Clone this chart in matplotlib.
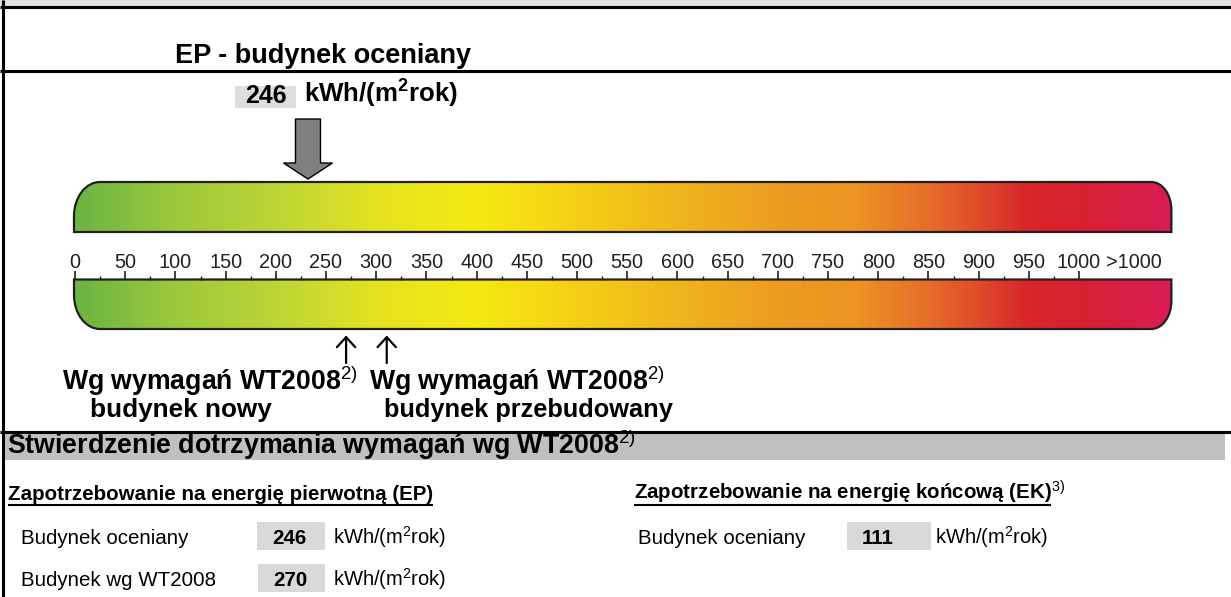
import matplotlib
matplotlib.use("Agg")
import matplotlib.pyplot as plt
import numpy as np
from matplotlib.patches import Rectangle, Polygon, PathPatch, FancyArrowPatch
from matplotlib.path import Path
from matplotlib.colors import LinearSegmentedColormap

plt.rcParams['font.family'] = ['Liberation Sans', 'DejaVu Sans']
plt.rcParams['mathtext.fontset'] = 'custom'
plt.rcParams['mathtext.rm'] = 'Liberation Sans'
plt.rcParams['mathtext.bf'] = 'Liberation Sans:bold'
plt.rcParams['mathtext.it'] = 'Liberation Sans:italic'
plt.rcParams['mathtext.default'] = 'regular'

# ---------------- data ----------------
scale_major = list(range(0, 1001, 50))
scale_minor = list(range(25, 1000, 50))
scale_labels = [str(v) for v in scale_major]
overflow_label = '>1000'
ep_assessed = 246          # EP - budynek oceniany
ep_wt2008_new = 270        # wg WT2008, budynek nowy
ep_wt2008_rebuilt = 310.5  # wg WT2008, budynek przebudowany
ek_assessed = 111          # EK - budynek oceniany
unit_text = 'kWh/(m$^2$rok)'
stop_values = [-1, 100, 200, 300, 400, 500, 600, 700, 780, 850, 900, 950, 1000, 1092]
stop_colors = ['#6cb444', '#9cc93c', '#bdd536', '#e4e320', '#f6e913', '#f5cf16',
               '#efb51d', '#ec9c22', '#ec9323', '#e66d28', '#df4d2a', '#d9252a',
               '#d9202f', '#d81c55']

# ---------------- figure ----------------
W, H = 1231, 597
fig = plt.figure(figsize=(W / 100, H / 100), dpi=100)
ax = fig.add_axes([0, 0, 1, 1])
ax.set_xlim(0, W)
ax.set_ylim(H, 0)
ax.axis('off')

# gauge axes: x in EP units, y in pixels
X0, PXU = 75.0, 1.004
gax = fig.add_axes([0, 0, 1, 1])
gax.set_xlim(-X0 / PXU, (W - X0) / PXU)
gax.set_ylim(H, 0)
gax.axis('off')

DARK = '#231f20'
LW3 = 2.2

# frame
ax.add_patch(Rectangle((0, 0), W, 5.5, facecolor='#e1e1e1', edgecolor='none'))
for yy in (6.5, 70.5, 431.5):
    ax.plot([0, W], [yy, yy], color='black', lw=LW3, solid_capstyle='butt')
ax.plot([3, 3], [0, H], color='black', lw=LW3, solid_capstyle='butt')

# header texts
ax.text(175, 63, 'EP - budynek oceniany', fontsize=19.5, fontweight='bold',
        va='baseline', ha='left')
ax.add_patch(Rectangle((235, 86), 61, 22, facecolor='#dedede', edgecolor='none'))
ax.text(265.5, 103, f'{ep_assessed}', fontsize=18, fontweight='bold',
        va='baseline', ha='center')
ax.text(304, 103, unit_text, fontsize=18.6, fontweight='bold', va='baseline', ha='left')

# ---------------- gauge ----------------
k = 0.5523
xl, xr = stop_values[0], stop_values[-1]
rlx, rly = 26 / PXU, 34
rrx, rry = 20 / PXU, 28


def upper_path(yt, yb):
    v = [(xl, yb), (xl, yt + rly),
         (xl, yt + rly * (1 - k)), (xl + rlx * (1 - k), yt), (xl + rlx, yt),
         (xr - rrx, yt),
         (xr - rrx * (1 - k), yt), (xr, yt + rry * (1 - k)), (xr, yt + rry),
         (xr, yb), (xl, yb)]
    c = [Path.MOVETO, Path.LINETO, Path.CURVE4, Path.CURVE4, Path.CURVE4,
         Path.LINETO, Path.CURVE4, Path.CURVE4, Path.CURVE4, Path.LINETO,
         Path.CLOSEPOLY]
    return Path(v, c)


def lower_path(yt, yb):
    v = [(xl, yt), (xr, yt), (xr, yb - rry),
         (xr, yb - rry * (1 - k)), (xr - rrx * (1 - k), yb), (xr - rrx, yb),
         (xl + rlx, yb),
         (xl + rlx * (1 - k), yb), (xl, yb - rly * (1 - k)), (xl, yb - rly),
         (xl, yt)]
    c = [Path.MOVETO, Path.LINETO, Path.LINETO, Path.CURVE4, Path.CURVE4,
         Path.CURVE4, Path.LINETO, Path.CURVE4, Path.CURVE4, Path.CURVE4,
         Path.CLOSEPOLY]
    return Path(v, c)


pos = [(v - xl) / (xr - xl) for v in stop_values]
cmap = LinearSegmentedColormap.from_list('ep', list(zip(pos, stop_colors)))
grad = np.linspace(xl, xr, 800).reshape(1, -1)

for path, (yt, yb) in ((upper_path(182, 232), (182, 232)),
                       (lower_path(279.5, 329), (279.5, 329))):
    patch = PathPatch(path, facecolor='none', edgecolor=DARK, lw=1.6, zorder=3)
    gax.add_patch(patch)
    im = gax.imshow(grad, extent=(xl, xr, yb, yt), aspect='auto', cmap=cmap,
                    vmin=xl, vmax=xr, interpolation='bilinear', zorder=2)
    im.set_clip_path(patch)

gax.set_xlim(-X0 / PXU, (W - X0) / PXU)
gax.set_ylim(H, 0)

# ticks and labels
gax.vlines(scale_major, 271, 279.5, color=DARK, lw=1.2, zorder=4)
gax.vlines(scale_minor, 275.5, 279.5, color=DARK, lw=1.0, zorder=4)
for v, lab in zip(scale_major, scale_labels):
    gax.text(v, 268, lab, fontsize=14.3, color=DARK, ha='center', va='baseline')
gax.text(1055, 268, overflow_label, fontsize=14.3, color=DARK, ha='center', va='baseline')

# grey pointer for assessed building (anchored by its shaft edge)
tip_off = -14 / PXU
shape_px = [(-12.5, 119), (12.5, 119), (12.5, 163), (24.5, 163), (0, 179),
            (-24.5, 163), (-12.5, 163)]
tipx = ep_assessed + tip_off
gax.add_patch(Polygon([(tipx + dx / PXU, y) for dx, y in shape_px], closed=True,
                      facecolor='#808080', edgecolor='black', lw=1.0, zorder=5))

# WT2008 requirement arrows
for v in (ep_wt2008_new, ep_wt2008_rebuilt):
    gax.add_patch(FancyArrowPatch((v, 363), (v, 335.5),
                                  arrowstyle='->,head_length=0.6,head_width=0.55',
                                  mutation_scale=12, lw=1.6, color='black',
                                  shrinkA=0, shrinkB=0, zorder=5))

sup2 = r'$^{\mathrm{2)}}$'
ax.text(62, 390, 'Wg wymagań WT2008' + sup2, fontsize=19.2, fontweight='bold',
        va='baseline', ha='left')
ax.text(181, 417, 'budynek nowy', fontsize=18.8, fontweight='bold',
        va='baseline', ha='center')
ax.text(369, 390, 'Wg wymagań WT2008' + sup2, fontsize=19.2, fontweight='bold',
        va='baseline', ha='left')
ax.text(384, 417, 'budynek przebudowany', fontsize=18.3, fontweight='bold',
        va='baseline', ha='left')

# ---------------- bottom section ----------------
ax.add_patch(Rectangle((3.5, 433), 1221.5, 27, facecolor='#c0c0c0', edgecolor='none'))
ax.text(7, 454.5, 'Stwierdzenie dotrzymania wymagań wg WT2008' + sup2, fontsize=19.3,
        fontweight='bold', va='baseline', ha='left')

renderer = fig.canvas.get_renderer()


def underlined(x, y, s, sup, size):
    t = ax.text(x, y, s, fontsize=size, fontweight='bold', va='baseline', ha='left')
    bb = t.get_window_extent(renderer)
    inv = ax.transData.inverted()
    x0 = inv.transform((bb.x0, bb.y0))[0]
    x1 = inv.transform((bb.x1, bb.y0))[0]
    ax.plot([x0, x1], [y + 5, y + 5], color='black', lw=1.5, solid_capstyle='butt')
    t.set_text(s + sup)


underlined(8, 500, 'Zapotrzebowanie na energię pierwotną (EP)', '', 14.8)
underlined(634, 500, 'Zapotrzebowanie na energię końcową (EK)', r'$^{\mathrm{3)}}$', 14.8)

rows = [
    (21, 544, 'Budynek oceniany', 257, 68, 522, ep_assessed, 333),
    (21, 586, 'Budynek wg WT2008', 258, 67, 564, ep_wt2008_new, 333),
    (638, 544, 'Budynek oceniany', 847, 84, 522, ek_assessed, 935),
]
for tx, base, label, bx, bw, by, val, ux in rows:
    ax.text(tx, base, label, fontsize=14.8, va='baseline', ha='left')
    ax.add_patch(Rectangle((bx, by), bw, 28, facecolor='#d9d9d9', edgecolor='none'))
    ax.text(bx + 15, base, f'{val}', fontsize=14.8, fontweight='bold',
            va='baseline', ha='left')
    ax.text(ux, base, unit_text, fontsize=14.5, va='baseline', ha='left')

fig.savefig('out.png', dpi=100)
